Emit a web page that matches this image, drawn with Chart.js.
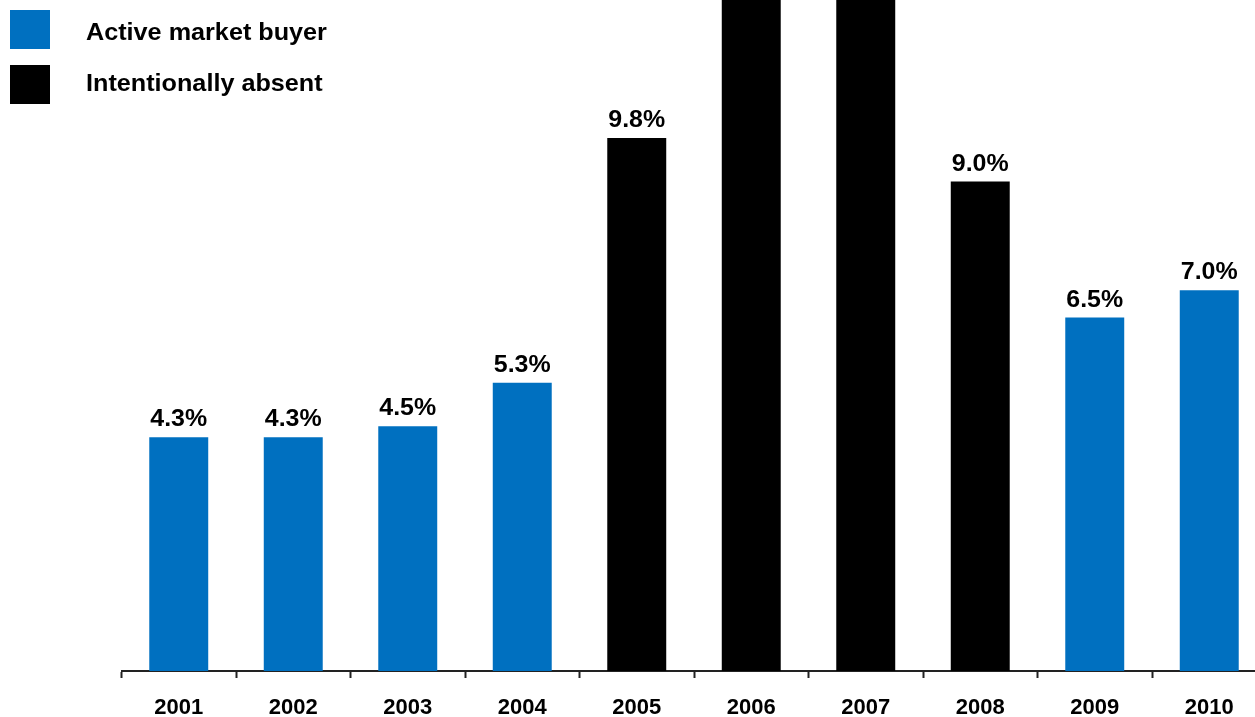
<!DOCTYPE html>
<html>
<head>
<meta charset="utf-8">
<script src="https://cdn.jsdelivr.net/npm/chart.js@4.4.1/dist/chart.umd.min.js"></script>
<style>
  html, body { margin: 0; padding: 0; background: #fff; overflow: hidden; }
  #wrap { position: relative; width: 1300px; height: 717px; }
</style>
</head>
<body>
<div id="wrap"><canvas id="buyerChart"></canvas></div>
<script>
const years = ['2001', '2002', '2003', '2004', '2005', '2006', '2007', '2008', '2009', '2010'];
const shares = [4.3, 4.3, 4.5, 5.3, 9.8, 13.4, 13.1, 9.0, 6.5, 7.0];
const status = ['active', 'active', 'active', 'active', 'absent', 'absent', 'absent', 'absent', 'active', 'active'];
const legendKeys = ['active', 'absent'];
const legendLabels = ['Active market buyer', 'Intentionally absent'];

const colours = { active: '#0070C0', absent: '#000000' };
const FONT = "'Liberation Sans', Arial, Helvetica, sans-serif";

// text in the source is a touch wider than the plain font
function wideText(ctx, text, x, y, sx, align) {
    ctx.save();
    ctx.translate(x, y);
    ctx.scale(sx, 1);
    ctx.textAlign = align;
    ctx.fillText(text, 0, 0);
    ctx.restore();
}

const valueLabels = {
    id: 'valueLabels',
    afterDatasetsDraw(chart) {
        const ctx = chart.ctx;
        const meta = chart.getDatasetMeta(0);
        ctx.save();
        ctx.fillStyle = '#000';
        ctx.font = 'bold 24px ' + FONT;
        ctx.textBaseline = 'alphabetic';
        meta.data.forEach((bar, i) => {
            wideText(ctx, shares[i].toFixed(1) + '%', bar.x, bar.y - 11, 1.04, 'center');
        });
        ctx.restore();
    }
};

const sideLegend = {
    id: 'sideLegend',
    afterDraw(chart) {
        const ctx = chart.ctx;
        const baselines = [39.5, 90.5];
        ctx.save();
        legendKeys.forEach((key, i) => {
            ctx.fillStyle = colours[key];
            ctx.fillRect(10, 10 + i * 55, 40, 39);
            ctx.fillStyle = '#000';
            ctx.font = 'bold 24px ' + FONT;
            ctx.textBaseline = 'alphabetic';
            wideText(ctx, legendLabels[i], 86, baselines[i], 1.05, 'left');
        });
        ctx.restore();
    }
};

new Chart(document.getElementById('buyerChart'), {
    type: 'bar',
    data: {
        labels: years,
        datasets: [{
            data: shares,
            backgroundColor: status.map(s => colours[s]),
            barPercentage: 0.515,
            categoryPercentage: 1
        }]
    },
    options: {
        responsive: true,
        maintainAspectRatio: false,
        animation: false,
        layout: { padding: { left: 121.5, right: 33.5, top: 0, bottom: 0 } },
        plugins: {
            legend: { display: false },
            tooltip: { enabled: false }
        },
        scales: {
            x: {
                afterFit(scale) { scale.height = 46; },
                border: { display: true, color: '#222', width: 2 },
                grid: {
                    display: true,
                    drawOnChartArea: false,
                    drawTicks: true,
                    tickLength: 7,
                    tickWidth: 2,
                    tickColor: '#222',
                    offset: true
                },
                ticks: {
                    color: '#000',
                    font: { family: FONT, size: 22, weight: 'bold' },
                    padding: 17,
                    maxRotation: 0
                }
            },
            y: {
                display: false,
                min: 0,
                max: 12.34
            }
        }
    },
    plugins: [valueLabels, sideLegend]
});
</script>
</body>
</html>
